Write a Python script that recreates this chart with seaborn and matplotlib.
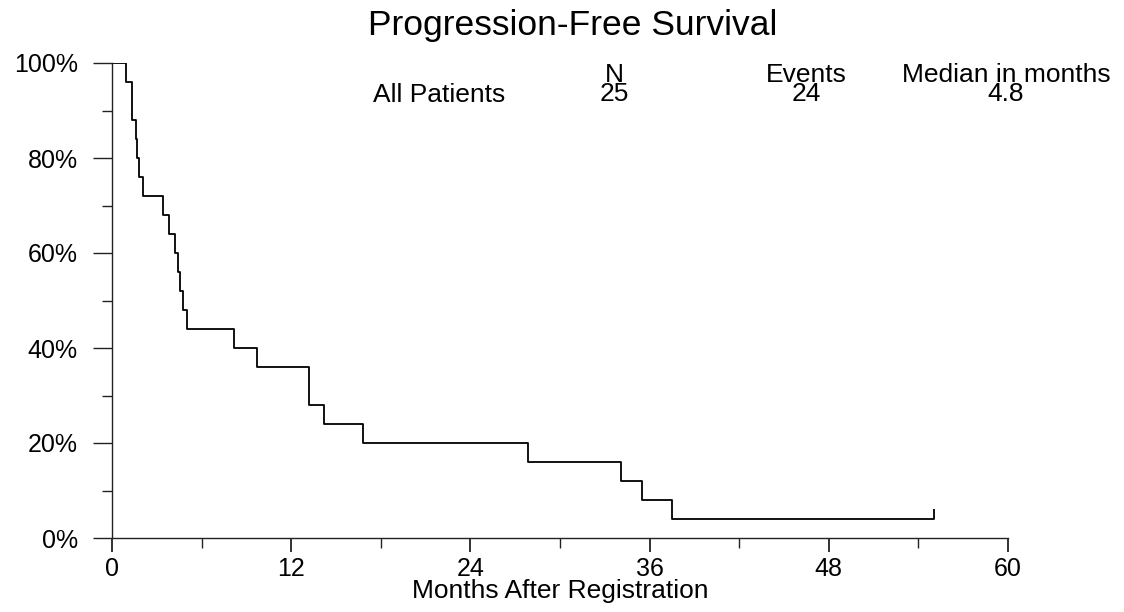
import numpy as np
import pandas as pd
import matplotlib
matplotlib.use("Agg")
import matplotlib.pyplot as plt
from matplotlib.path import Path
import seaborn as sns

# ---- data ----
event_times = [0.94, 1.36, 1.36, 1.60, 1.65, 1.83, 2.05, 3.44, 3.84, 4.22,
               4.44, 4.55, 4.78, 5.00, 8.17, 9.69, 13.19, 13.19, 14.22, 16.79,
               27.89, 34.07, 35.47, 37.53]
censored_times = [55.05]
group_label = "All Patients"
n_patients = 25
n_events = 24
median_months = 4.8
x_ticks = [0, 12, 24, 36, 48, 60]
x_minor = [6, 18, 30, 42, 54]
y_ticks = [0, 20, 40, 60, 80, 100]
y_minor = [10, 30, 50, 70, 90]
y_ticklabels = ["0%", "20%", "40%", "60%", "80%", "100%"]

# ---- Kaplan-Meier estimate ----
all_t = np.array(event_times + censored_times)
all_e = np.array([1] * len(event_times) + [0] * len(censored_times))
uniq = np.unique(all_t)
surv = 1.0
xs, ys = [0.0], [100.0]
for t in uniq:
    at_risk = np.sum(all_t >= t)
    d = np.sum((all_t == t) & (all_e == 1))
    surv *= (1 - d / at_risk)
    xs.append(t)
    ys.append(surv * 100)
km = pd.DataFrame({"month": xs, "pct": ys})
cens_df = pd.DataFrame({"month": censored_times,
                        "pct": [km.loc[km.month <= c, "pct"].iloc[-1] for c in censored_times]})

# ---- style ----
sns.set_style("ticks")
plt.rcParams["font.family"] = ["Liberation Sans", "DejaVu Sans"]
plt.rcParams["text.color"] = "black"
plt.rcParams["axes.labelcolor"] = "black"
plt.rcParams["xtick.color"] = "black"
plt.rcParams["ytick.color"] = "black"

fig = plt.figure(figsize=(11.24, 6.12), dpi=100)
ax = fig.add_axes([112 / 1124, 74 / 612, 896 / 1124, 475 / 612])

sns.lineplot(data=km, x="month", y="pct", ax=ax, estimator=None, sort=False,
             drawstyle="steps-post", color="black", linewidth=1.3)
cens_marker = Path([[0, 0], [0, 1]])
ax.plot(cens_df["month"], cens_df["pct"], linestyle="none", marker=cens_marker,
        markersize=14.4, markeredgewidth=1.3, markeredgecolor="black")

ax.set_xlim(0, 60)
ax.set_ylim(0, 100)
ax.set_xticks(x_ticks)
ax.set_xticks(x_minor, minor=True)
ax.set_yticks(y_ticks)
ax.set_yticks(y_minor, minor=True)
ax.set_yticklabels(y_ticklabels)
ax.set_xticklabels([str(v) for v in x_ticks])

for s in ["top", "right"]:
    ax.spines[s].set_visible(False)
for s in ["left", "bottom"]:
    ax.spines[s].set_color("#222222")
    ax.spines[s].set_linewidth(1.0)

ax.tick_params(axis="x", which="major", length=10, width=1.3, pad=3.5,
               labelsize=18, color="#222222", labelcolor="black")
ax.tick_params(axis="x", which="minor", length=7, width=1.0, color="#222222")
ax.tick_params(axis="y", which="major", length=13.5, width=1.0, pad=11,
               labelsize=18, color="#222222", labelcolor="black")
ax.tick_params(axis="y", which="minor", length=7, width=1.0, color="#222222")

ax.set_xlabel("Months After Registration", fontsize=19, labelpad=-1, color="black")
ax.set_ylabel("")

fig.text(573 / 1124, 1 - 35 / 612, "Progression-Free Survival", ha="center",
         va="baseline", fontsize=25.5, color="black")

fig.text(439 / 1124, 1 - 102 / 612, group_label, ha="center", va="baseline",
         fontsize=19, color="black")
header = [("N", str(n_patients), 614),
          ("Events", str(n_events), 806),
          ("Median in months", f"{median_months}", 1006)]
for head, val, xc in header:
    fig.text(xc / 1124, 1 - 101 / 612, f"{head}\n{val}", ha="center", va="baseline",
             multialignment="center", fontsize=19, linespacing=0.74, color="black")

fig.savefig("out.png", dpi=100, facecolor="white")
